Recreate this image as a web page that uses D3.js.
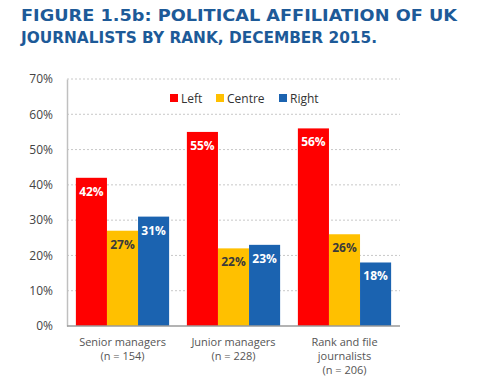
<!DOCTYPE html>
<html lang="en">
<head>
<meta charset="UTF-8">
<title>Political affiliation of UK journalists by rank</title>
<style>
    body { margin: 0; padding: 0; background: #fff; }
    svg { display: block; }
    .title { font-family: "DejaVu Sans", sans-serif; font-weight: bold; fill: #1d5a98; }
    .tick text { font-family: "Open Sans", sans-serif; font-size: 12px; fill: #444; }
    .grid line { stroke: #c8c8c8; stroke-dasharray: 2,2; }
    .cat-label { font-family: "Open Sans", sans-serif; font-size: 11px; fill: #555; }
    .legend text { font-family: "Open Sans", sans-serif; font-size: 12px; fill: #333; }
    .val { font-family: "Open Sans", sans-serif; font-size: 12px; font-weight: bold; }
</style>
</head>
<body>
<div id="chart"></div>
<script src="https://d3js.org/d3.v7.min.js"></script>
<script>
    // data
    const categories = ["Senior managers", "Junior managers", "Rank and file journalists"];
    const categoryLines = [
        ["Senior managers", "(n = 154)"],
        ["Junior managers", "(n = 228)"],
        ["Rank and file", "journalists", "(n = 206)"]
    ];
    const seriesNames = ["Left", "Centre", "Right"];
    const left = [42, 55, 56];
    const centre = [27, 22, 26];
    const right = [31, 23, 18];
    const yTicks = [0, 10, 20, 30, 40, 50, 60, 70];

    const colors = { Left: "#ff0000", Centre: "#ffc000", Right: "#1b63b0" };
    const labelColors = { Left: "#fff", Centre: "#3a3a3a", Right: "#fff" };

    const W = 501, H = 388;
    const margin = { top: 79, right: 101, bottom: 62, left: 67 };
    const width = W - margin.left - margin.right;
    const height = H - margin.top - margin.bottom;

    const svg = d3.select("#chart").append("svg")
        .attr("width", W)
        .attr("height", H);

    // title
    svg.append("text").attr("class", "title")
        .attr("x", 21).attr("y", 21)
        .attr("font-size", 16)
        .attr("textLength", 436).attr("lengthAdjust", "spacingAndGlyphs")
        .text("FIGURE 1.5b: POLITICAL AFFILIATION OF UK");
    svg.append("text").attr("class", "title")
        .attr("x", 21).attr("y", 43)
        .attr("font-size", 16)
        .attr("textLength", 356).attr("lengthAdjust", "spacingAndGlyphs")
        .text("JOURNALISTS BY RANK, DECEMBER 2015.");

    const g = svg.append("g")
        .attr("transform", "translate(" + margin.left + "," + margin.top + ")");

    const x0 = d3.scaleBand()
        .domain(categories)
        .range([0, width])
        .paddingInner(0.16)
        .paddingOuter(0.08);

    const x1 = d3.scaleBand()
        .domain(seriesNames)
        .range([0, x0.bandwidth()]);

    const y = d3.scaleLinear()
        .domain([0, 70])
        .range([height, 0]);

    // gridlines
    g.append("g").attr("class", "grid")
        .selectAll("line")
        .data(yTicks.filter(d => d > 0))
        .enter().append("line")
        .attr("x1", 0).attr("x2", width)
        .attr("y1", d => y(d)).attr("y2", d => y(d));

    // y axis
    const yAxis = g.append("g")
        .call(d3.axisLeft(y).tickValues(yTicks).tickFormat(d => d + "%").tickSize(0).tickPadding(14));
    yAxis.select(".domain").attr("stroke", "#c0c0c0").attr("stroke-width", 1.5);

    const rows = categories.map((c, i) => ({
        category: c,
        values: [
            { key: "Left", value: left[i] },
            { key: "Centre", value: centre[i] },
            { key: "Right", value: right[i] }
        ]
    }));

    const groups = g.selectAll(".group")
        .data(rows)
        .enter().append("g")
        .attr("class", "group")
        .attr("transform", d => "translate(" + x0(d.category) + ",0)");

    groups.selectAll("rect")
        .data(d => d.values)
        .enter().append("rect")
        .attr("x", d => x1(d.key))
        .attr("width", x1.bandwidth())
        .attr("y", d => y(d.value))
        .attr("height", d => height - y(d.value))
        .attr("fill", d => colors[d.key]);

    groups.selectAll("text.val")
        .data(d => d.values)
        .enter().append("text")
        .attr("class", "val")
        .attr("x", d => x1(d.key) + x1.bandwidth() / 2)
        .attr("y", d => y(d.value) + 18)
        .attr("text-anchor", "middle")
        .attr("fill", d => labelColors[d.key])
        .attr("font-weight", d => d.key === "Centre" ? "normal" : "bold")
        .text(d => d.value + "%");

    // baseline
    g.append("line")
        .attr("x1", 0).attr("x2", width)
        .attr("y1", height).attr("y2", height)
        .attr("stroke", "#9a9a9a").attr("stroke-width", 1.5);

    // category labels
    categories.forEach((c, i) => {
        const t = g.append("text").attr("class", "cat-label")
            .attr("x", x0(c) + x0.bandwidth() / 2)
            .attr("y", height + 20)
            .attr("text-anchor", "middle");
        categoryLines[i].forEach((line, j) => {
            t.append("tspan")
                .attr("x", x0(c) + x0.bandwidth() / 2)
                .attr("dy", j === 0 ? 0 : 14)
                .text(line);
        });
    });

    // legend
    const legendX = [170, 216, 279];
    const legend = svg.append("g").attr("class", "legend");
    seriesNames.forEach((s, i) => {
        legend.append("rect")
            .attr("x", legendX[i]).attr("y", 94)
            .attr("width", 8).attr("height", 8)
            .attr("fill", colors[s]);
        legend.append("text")
            .attr("x", legendX[i] + 11).attr("y", 102.5)
            .text(s);
    });
</script>
</body>
</html>
